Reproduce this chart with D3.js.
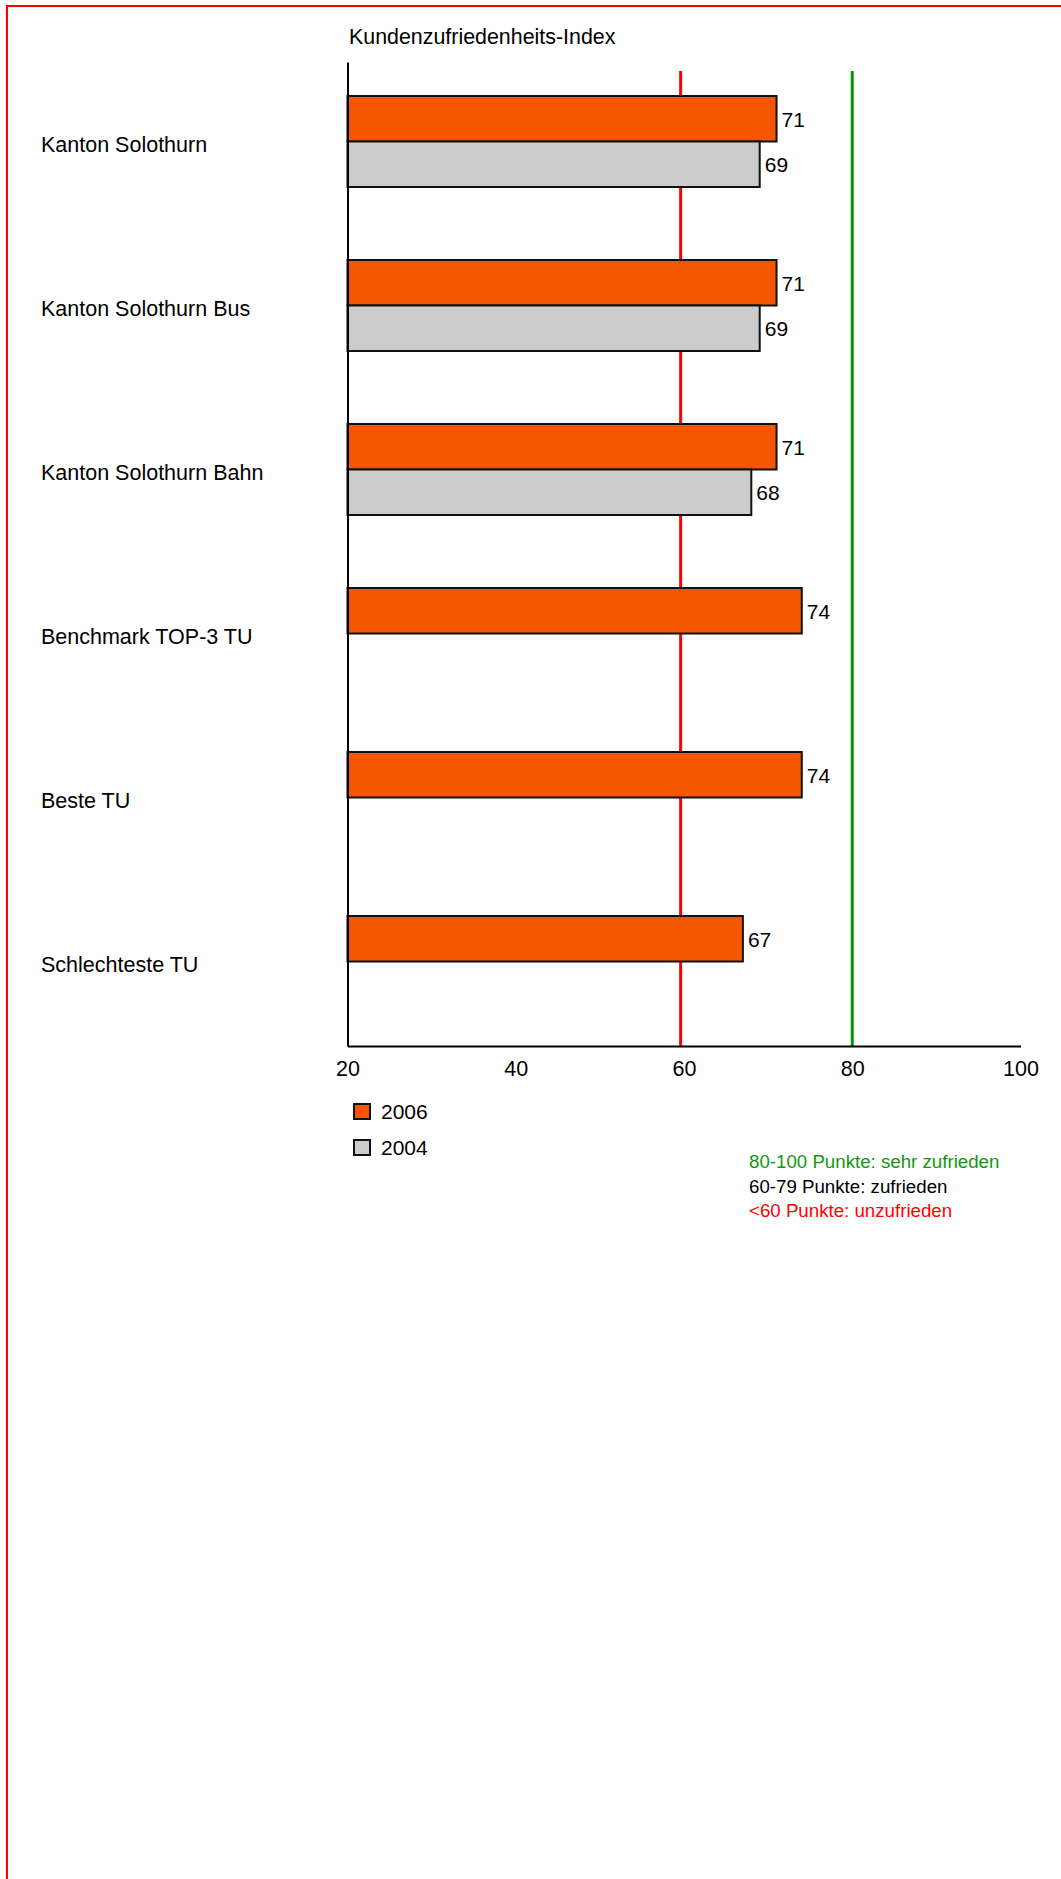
<!DOCTYPE html>
<html>
<head>
<meta charset="utf-8">
<script src="https://cdn.jsdelivr.net/npm/d3@7"></script>
<style>
  html, body { margin: 0; padding: 0; background: #fff; }
  svg { display: block; font-family: "Liberation Sans", Arial, sans-serif; }
</style>
</head>
<body>
<svg id="chart" width="1061" height="1879"></svg>
<script>
const categories = ["Kanton Solothurn", "Kanton Solothurn Bus", "Kanton Solothurn Bahn", "Benchmark TOP-3 TU", "Beste TU", "Schlechteste TU"];
const seriesNames = ["2006", "2004"];
const values2006 = [71, 71, 71, 74, 74, 67];
const values2004 = [69, 69, 68, null, null, null];
const xTicks = [20, 40, 60, 80, 100];
const thresholds = [{ value: 59.6, color: "#ff0000" }, { value: 80, color: "#009a00" }];
const titleText = "Kundenzufriedenheits-Index";
const noteLines = [
  { text: "80-100 Punkte: sehr zufrieden", color: "#119a11" },
  { text: "60-79 Punkte: zufrieden", color: "#000000" },
  { text: "<60 Punkte: unzufrieden", color: "#ff0000" }
];
const seriesColors = ["#f55600", "#cccccc"];

const svg = d3.select("#chart");

// outer red frame
svg.append("rect").attr("x", 7).attr("y", 6).attr("width", 1100).attr("height", 1900)
  .attr("fill", "none").attr("stroke", "#ff0000").attr("stroke-width", 2);

const x = d3.scaleLinear().domain([20, 100]).range([347.5, 1020.5]);
const y = d3.scaleBand().domain(categories).range([62, 1046]).padding(0);
const ySub = d3.scaleBand().domain(seriesNames).range([34, 125]).padding(0);

// title
svg.append("text").attr("x", 349).attr("y", 44).attr("font-size", 21.4).attr("fill", "#000").text(titleText);

// threshold lines
thresholds.forEach(t => {
  svg.append("line").attr("x1", x(t.value)).attr("x2", x(t.value))
    .attr("y1", 71).attr("y2", 1046)
    .attr("stroke", t.color).attr("stroke-width", 3);
});

// bars
const rows = [];
categories.forEach((c, i) => {
  [values2006[i], values2004[i]].forEach((v, j) => {
    if (v != null) rows.push({ cat: c, series: seriesNames[j], value: v, color: seriesColors[j] });
  });
});

const g = svg.append("g");
g.selectAll("rect.bar").data(rows).join("rect").attr("class", "bar")
  .attr("x", x(20))
  .attr("y", d => y(d.cat) + ySub(d.series))
  .attr("width", d => x(d.value) - x(20))
  .attr("height", ySub.bandwidth())
  .attr("fill", d => d.color)
  .attr("stroke", "#111").attr("stroke-width", 2);

g.selectAll("text.val").data(rows).join("text").attr("class", "val")
  .attr("x", d => x(d.value) + 5)
  .attr("y", d => y(d.cat) + ySub(d.series) + ySub.bandwidth() / 2 + 8)
  .attr("font-size", 21).attr("fill", "#000")
  .text(d => d.value);

// category labels
svg.selectAll("text.cat").data(categories).join("text").attr("class", "cat")
  .attr("x", 41).attr("y", d => y(d) + y.bandwidth() / 2 + 7.5)
  .attr("font-size", 21.5).attr("fill", "#000").text(d => d);

// axes
const xAxis = d3.axisBottom(x).tickValues(xTicks).tickSize(0).tickPadding(15).tickFormat(d3.format("d"));
const ax = svg.append("g").attr("transform", "translate(0,1046)").call(xAxis);
ax.select(".domain").attr("stroke", "#000").attr("stroke-width", 2);
ax.selectAll("text").attr("font-size", 21.5).attr("fill", "#000").attr("font-family", "'Liberation Sans', Arial, sans-serif");

const yAxis = d3.axisLeft(y).tickSize(0).tickFormat("");
const ay = svg.append("g").attr("transform", "translate(347.5,0)").call(yAxis);
ay.select(".domain").attr("stroke", "#000").attr("stroke-width", 2);

// legend
seriesNames.forEach((s, i) => {
  const ly = 1104 + i * 36;
  svg.append("rect").attr("x", 354).attr("y", ly).attr("width", 16).attr("height", 15)
    .attr("fill", seriesColors[i]).attr("stroke", "#111").attr("stroke-width", 2);
  svg.append("text").attr("x", 381).attr("y", ly + 15).attr("font-size", 21).attr("fill", "#000").text(s);
});

// threshold note
noteLines.forEach((n, i) => {
  svg.append("text").attr("x", 749).attr("y", 1168 + i * 24.5)
    .attr("font-size", 18.7).attr("fill", n.color).text(n.text);
});
</script>
</body>
</html>
